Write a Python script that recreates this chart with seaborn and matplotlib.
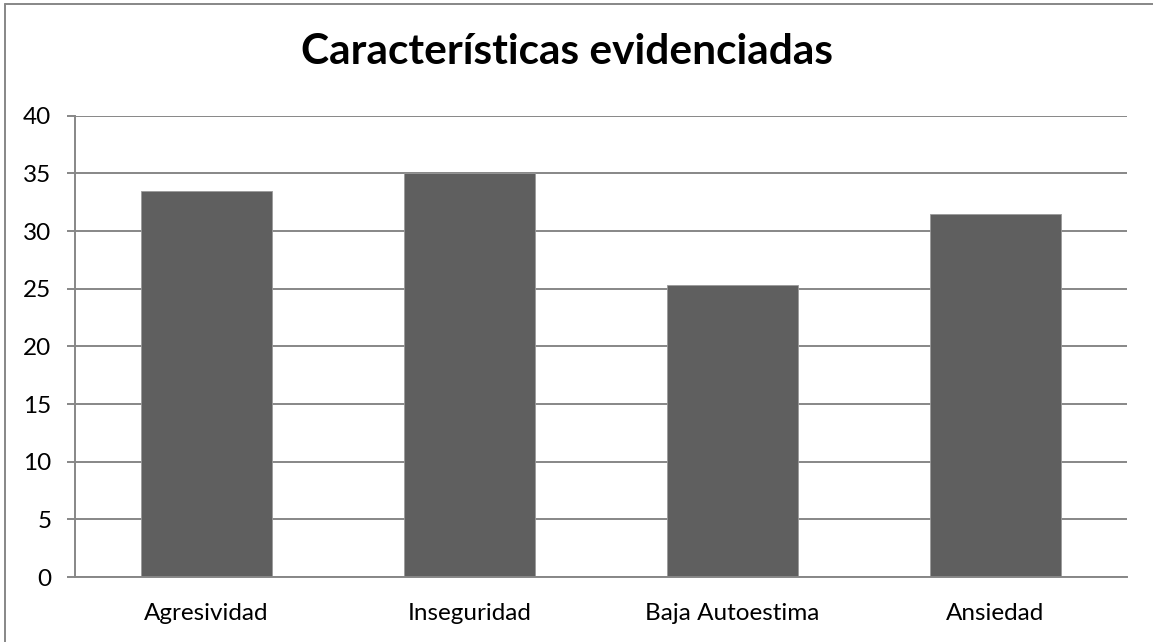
import pandas as pd
import seaborn as sns
from matplotlib import pyplot as plt
from matplotlib.lines import Line2D
from matplotlib.ticker import FixedLocator, MultipleLocator

categorias = ['Agresividad', 'Inseguridad', 'Baja Autoestima', 'Ansiedad']
valores = [33.5, 35.0, 25.3, 31.5]
titulo = 'Características evidenciadas'

sns.set_theme(style='white')
plt.rcParams['font.family'] = ['Lato', 'DejaVu Sans']

gris = '#878787'
df = pd.DataFrame({'caracteristica': categorias, 'valor': valores})

fig = plt.figure(figsize=(11.53, 6.42), dpi=100)
ax = fig.add_axes([75 / 1153, 1 - 577 / 642, (1127 - 75) / 1153, (577 - 115.7) / 642])

sns.barplot(data=df, x='caracteristica', y='valor', color='#5f5f5f',
            saturation=1, width=0.5, edgecolor='#9a9a9a', linewidth=0.6, ax=ax)

ax.set_xlim(-0.5, len(categorias) - 0.5)
ax.set_ylim(0, 40)
ax.yaxis.set_major_locator(MultipleLocator(5))
ax.grid(axis='y', color=gris, linewidth=1.4)
ax.set_axisbelow(True)

ax.set_xlabel('')
ax.set_ylabel('')
ax.xaxis.set_minor_locator(FixedLocator([i - 0.5 for i in range(len(categorias) + 1)]))
ax.tick_params(axis='x', which='major', length=0, pad=19, labelsize=17.5, colors='black')
ax.tick_params(axis='x', which='minor', length=6, width=1.4, color=gris, direction='out')
ax.tick_params(axis='y', length=6, width=1.4, color=gris, pad=11, labelsize=17.5,
               labelcolor='black', direction='out', left=True)

for lado in ['top', 'right']:
    ax.spines[lado].set_visible(False)
for lado in ['left', 'bottom']:
    ax.spines[lado].set_color(gris)
    ax.spines[lado].set_linewidth(1.4)

fig.text(567 / 1153, 1 - 52 / 642, titulo, ha='center', va='center',
         fontsize=30.5, fontweight='bold', color='black')

# borde del área del gráfico
bx, by = 5 / 1153, 1 - 4 / 642
fig.add_artist(Line2D([bx, 1], [by, by], color=gris, linewidth=1.4))
fig.add_artist(Line2D([bx, bx], [0, by], color=gris, linewidth=1.4))

fig.savefig('out.png', dpi=100, facecolor='white')
